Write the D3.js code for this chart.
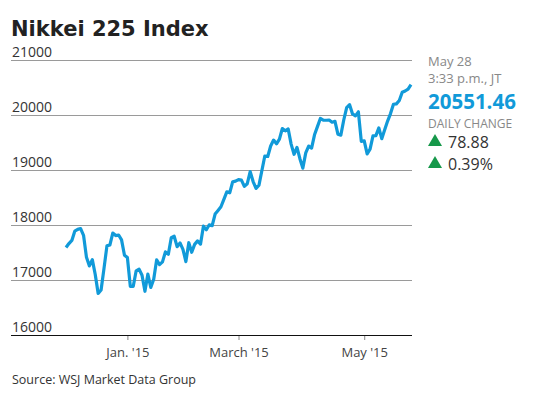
<!DOCTYPE html>
<html>
<head>
<meta charset="utf-8">
<script src="https://cdn.jsdelivr.net/npm/d3@7"></script>
<style>
  body { margin: 0; background: #fff; }
  svg { display: block; font-family: 'Open Sans', Lato, sans-serif; }
</style>
</head>
<body>
<svg width="544" height="398"></svg>
<script>
// trading days, Dec 1 2014 - May 28 2015
const dates = [
  '2014-12-01','2014-12-02','2014-12-03','2014-12-04','2014-12-05','2014-12-08','2014-12-09','2014-12-10','2014-12-11','2014-12-12',
  '2014-12-15','2014-12-16','2014-12-17','2014-12-18','2014-12-19','2014-12-22','2014-12-24','2014-12-25','2014-12-26','2014-12-29','2014-12-30',
  '2015-01-05','2015-01-06','2015-01-07','2015-01-08','2015-01-09','2015-01-13','2015-01-14','2015-01-15','2015-01-16','2015-01-19',
  '2015-01-20','2015-01-21','2015-01-22','2015-01-23','2015-01-26','2015-01-27','2015-01-28','2015-01-29','2015-01-30',
  '2015-02-02','2015-02-03','2015-02-04','2015-02-05','2015-02-06','2015-02-09','2015-02-10','2015-02-12','2015-02-13','2015-02-16',
  '2015-02-17','2015-02-18','2015-02-19','2015-02-20','2015-02-23','2015-02-24','2015-02-25','2015-02-26','2015-02-27',
  '2015-03-02','2015-03-03','2015-03-04','2015-03-05','2015-03-06','2015-03-09','2015-03-10','2015-03-11','2015-03-12','2015-03-13',
  '2015-03-16','2015-03-17','2015-03-18','2015-03-19','2015-03-20','2015-03-23','2015-03-24','2015-03-25','2015-03-26','2015-03-27',
  '2015-03-30','2015-03-31',
  '2015-04-01','2015-04-02','2015-04-03','2015-04-06','2015-04-07','2015-04-08','2015-04-09','2015-04-10','2015-04-13','2015-04-14',
  '2015-04-15','2015-04-16','2015-04-17','2015-04-20','2015-04-21','2015-04-22','2015-04-23','2015-04-24','2015-04-27','2015-04-28','2015-04-30',
  '2015-05-01','2015-05-07','2015-05-08','2015-05-11','2015-05-12','2015-05-13','2015-05-14','2015-05-15','2015-05-18','2015-05-19',
  '2015-05-20','2015-05-21','2015-05-22','2015-05-25','2015-05-26','2015-05-27','2015-05-28'
]

const closes = [
  17590, 17663, 17720, 17888, 17920, 17935, 17813, 17412, 17257, 17371,
  17099, 16755, 16819, 17211, 17621, 17635, 17854, 17808, 17818, 17729, 17451,
  17408, 16883, 16885, 17167, 17197, 17087, 16795, 17108, 16864, 17014,
  17366, 17280, 17329, 17511, 17468, 17768, 17795, 17606, 17674,
  17558, 17335, 17678, 17504, 17648, 17711, 17652, 17979, 17913, 18004,
  17987, 18199, 18264, 18332, 18466, 18603, 18585, 18785, 18797,
  18826, 18815, 18703, 18751, 18971, 18790, 18665, 18723, 18991, 19254,
  19246, 19437, 19544, 19476, 19560, 19754, 19713, 19746, 19471, 19285,
  19411, 19206,
  19034, 19312, 19435, 19397, 19640, 19789, 19937, 19907, 19905, 19908,
  19869, 19885, 19652, 19634, 19909, 20133, 20187, 20020, 19983, 20058, 19520,
  19531, 19292, 19379, 19620, 19624, 19765, 19570, 19732, 19890, 20026,
  20196, 20202, 20264, 20413, 20437, 20472, 20551
]

const yTicks = [16000, 17000, 18000, 19000, 20000, 21000]
const xTickDates = ['2015-01-05', '2015-03-02', '2015-05-01']
const xTickLabels = ["Jan. '15", "March '15", "May '15"]

const lastValue = '20551.46'
const lastDate = 'May 28'
const lastTime = '3:33 p.m., JT'
const changePoints = '78.88'
const changePct = '0.39%'

const svg = d3.select('svg')
const left = 11, right = 412

const x = d3.scalePoint().domain(dates).range([66, 411])
const y = d3.scaleLinear().domain([16000, 21000]).range([335, 60])

svg.append('text')
   .attr('x', 11).attr('y', 36)
   .attr('font-family', "'DejaVu Sans', sans-serif")
   .attr('font-size', 21).attr('font-weight', 700)
   .attr('fill', '#222')
   .text('Nikkei 225 Index')

// grid
svg.append('g').selectAll('line')
   .data(yTicks.slice(1))
   .enter().append('line')
   .attr('x1', left).attr('x2', right)
   .attr('y1', d => y(d) + 0.5).attr('y2', d => y(d) + 0.5)
   .attr('stroke', '#9a9a9a').attr('stroke-width', 1)

svg.append('g').selectAll('text')
   .data(yTicks)
   .enter().append('text')
   .attr('x', 12).attr('y', d => y(d) - 3)
   .attr('font-size', 14).attr('fill', '#333')
   .text(d => d)

// x axis
const xAxis = d3.axisBottom(x)
                .tickValues(xTickDates)
                .tickFormat((d, i) => xTickLabels[i])
                .tickSize(5)
                .tickSizeOuter(0)

const gx = svg.append('g')
              .attr('transform', 'translate(0,335)')
              .call(xAxis)
gx.select('.domain').remove()
gx.selectAll('.tick line').attr('stroke', '#888')
gx.selectAll('.tick text')
  .attr('font-family', "'Open Sans', sans-serif")
  .attr('font-size', 13).attr('fill', '#444').attr('dy', '1.05em')

svg.append('line')
   .attr('x1', left).attr('x2', right)
   .attr('y1', 335.5).attr('y2', 335.5)
   .attr('stroke', '#111').attr('stroke-width', 1.2)

const line = d3.line()
               .x((d, i) => x(dates[i]))
               .y(d => y(d))

svg.append('path')
   .datum(closes)
   .attr('d', line)
   .attr('fill', 'none')
   .attr('stroke', '#119ad9')
   .attr('stroke-width', 3.2)
   .attr('stroke-linejoin', 'round')

// right side note
const note = svg.append('g').attr('transform', 'translate(428,0)')
note.append('text').attr('y', 65.5).attr('font-size', 13).attr('fill', '#888').text(lastDate)
note.append('text').attr('y', 83).attr('font-size', 13).attr('fill', '#888').text(lastTime)
note.append('text').attr('y', 108.5).attr('font-size', 20.5).attr('font-weight', 700)
    .attr('fill', '#119ad9').text(lastValue)
note.append('text').attr('y', 128).attr('font-size', 12).attr('fill', '#888').text('DAILY CHANGE')

const tri = d3.symbol().type(d3.symbolTriangle).size(85)
;[[148, changePoints], [170, changePct]].forEach(([by, t]) => {
  note.append('path').attr('d', tri)
      .attr('transform', `translate(7,${by - 6})`)
      .attr('fill', '#16984a')
  note.append('text').attr('x', 20).attr('y', by)
      .attr('font-size', 16).attr('fill', '#333').text(t)
})

svg.append('text')
   .attr('x', 12).attr('y', 384)
   .attr('font-size', 12.5).attr('fill', '#333')
   .text('Source: WSJ Market Data Group')
</script>
</body>
</html>
